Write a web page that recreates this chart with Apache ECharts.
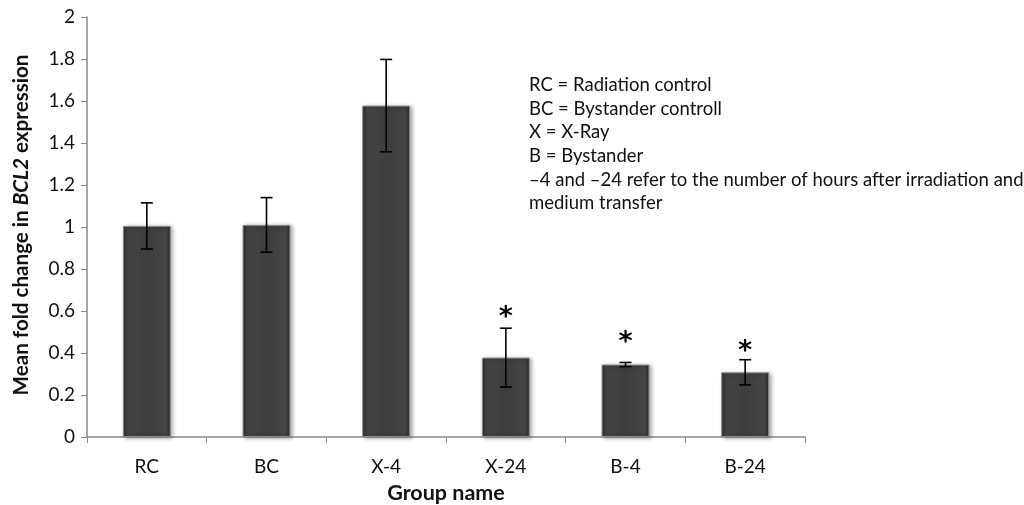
<!DOCTYPE html>
<html><head><meta charset="utf-8">
<script src="https://cdn.jsdelivr.net/npm/echarts@6/dist/echarts.min.js"></script>
<style>html,body{margin:0;padding:0;background:#fff}#c{width:1024px;height:505px}</style>
</head><body><div id="c"></div>
<script>
const categories = ['RC', 'BC', 'X-4', 'X-24', 'B-4', 'B-24'];
const means = [1.005, 1.01, 1.578, 0.378, 0.345, 0.308];
const errors = [0.11, 0.13, 0.22, 0.14, 0.01, 0.06];
const stars = ['', '', '', '*', '*', '*'];
const starLevels = [null, null, null, 0.59, 0.47, 0.43];
const yTicks = [0, 0.2, 0.4, 0.6, 0.8, 1, 1.2, 1.4, 1.6, 1.8, 2];
const notes = [
  'RC = Radiation control',
  'BC = Bystander controll',
  'X = X-Ray',
  'B = Bystander',
  '\u20134 and \u201324 refer to the number of hours after irradiation and',
  'medium transfer'
];
const FONT = 'Lato, "Open Sans", sans-serif';

const chart = echarts.init(document.getElementById('c'));
const errData = categories.map((c, i) => [i, means[i] - errors[i], means[i] + errors[i]]);
const starData = categories.map((c, i) => [i, starLevels[i] === null ? 0 : starLevels[i]]);

chart.setOption({
  animation: false,
  grid: {left: 87, right: 219, top: 17, bottom: 68, containLabel: false, outerBoundsMode: 'none'},
  xAxis: {
    type: 'category', data: categories,
    axisLine: {lineStyle: {color: '#8a8a8a', width: 1.5}},
    axisTick: {show: true, length: 6, lineStyle: {color: '#8a8a8a'}},
    axisLabel: {color: '#111', fontSize: 19, fontFamily: FONT, margin: 20},
    name: 'Group name', nameLocation: 'middle', nameGap: 45,
    nameTextStyle: {color: '#111', fontSize: 21.5, fontWeight: 'bold', fontFamily: FONT}
  },
  yAxis: {
    type: 'value', min: 0, max: 2, interval: 0.2,
    axisLine: {show: true, lineStyle: {color: '#8a8a8a', width: 1.5}},
    axisTick: {show: true, length: 6, lineStyle: {color: '#8a8a8a'}},
    splitLine: {show: false},
    axisLabel: {color: '#111', fontSize: 19, fontFamily: FONT, margin: 12,
      formatter: v => { const t = yTicks.find(x => Math.abs(x - v) < 1e-6); return t === undefined ? '' : String(t); }}
  },
  graphic: [
    {
      type: 'text', x: 21, y: 225, rotation: Math.PI / 2,
      style: {
        text: '{b|Mean fold change in }{bi|BCL2}{b| expression}',
        x: 0, y: 0, align: 'center', verticalAlign: 'middle',
        rich: {
          b: {fontSize: 20.6, fontWeight: 'bold', fontFamily: FONT, fill: '#111'},
          bi: {fontSize: 20.6, fontWeight: 'bold', fontStyle: 'italic', fontFamily: FONT, fill: '#111'}
        }
      }
    }
  ].concat(notes.map((t, i) => ({
    type: 'text', x: 529, y: 85 + i * 23.7,
    style: {text: t, fontSize: 18.5, fontFamily: FONT, fill: '#111', verticalAlign: 'middle'}
  }))),
  series: [
    {
      type: 'bar', data: means, barWidth: '40%',
      itemStyle: {
        color: new echarts.graphic.LinearGradient(0, 0, 1, 0, [
          {offset: 0, color: '#2b2b2b'}, {offset: 0.1, color: '#444'},
          {offset: 0.5, color: '#3d3d3d'}, {offset: 0.9, color: '#444'}, {offset: 1, color: '#2b2b2b'}
        ]),
        borderColor: '#8a8a8a', borderWidth: 1,
        shadowColor: 'rgba(0,0,0,0.35)', shadowBlur: 4, shadowOffsetX: 2, shadowOffsetY: 1
      }
    },
    {
      type: 'custom', data: errData, z: 10,
      renderItem: (params, api) => {
        const i = api.value(0);
        const lo = api.coord([i, api.value(1)]);
        const hi = api.coord([i, api.value(2)]);
        const w = 6;
        const st = {stroke: '#000', lineWidth: 1.6};
        return {type: 'group', children: [
          {type: 'line', shape: {x1: hi[0], y1: hi[1], x2: lo[0], y2: lo[1]}, style: st},
          {type: 'line', shape: {x1: hi[0] - w, y1: hi[1], x2: hi[0] + w, y2: hi[1]}, style: st},
          {type: 'line', shape: {x1: lo[0] - w, y1: lo[1], x2: lo[0] + w, y2: lo[1]}, style: st}
        ]};
      }
    },
    {
      type: 'custom', data: starData, z: 11,
      renderItem: (params, api) => {
        const i = api.value(0);
        if (!stars[i]) return null;
        const p = api.coord([i, api.value(1)]);
        return {type: 'text', x: p[0], y: p[1] + 5,
          style: {text: stars[i], fontSize: 27, fontWeight: 'bold', fontFamily: 'DejaVu Sans, sans-serif',
            fill: '#000', align: 'center', verticalAlign: 'middle'}};
      }
    }
  ]
});
</script></body></html>
